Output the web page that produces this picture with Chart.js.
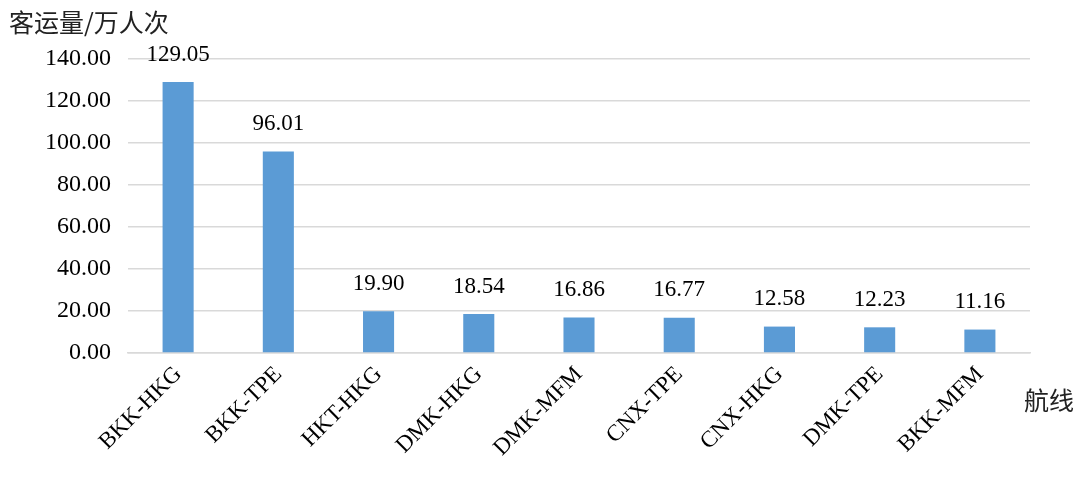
<!DOCTYPE html>
<html>
<head>
<meta charset="utf-8">
<script src="https://cdn.jsdelivr.net/npm/chart.js@4/dist/chart.umd.min.js"></script>
<style>
  html, body { margin: 0; padding: 0; background: #fff; }
  #wrap { width: 1080px; height: 477px; }
</style>
</head>
<body>
<div id="wrap"><canvas id="routeChart"></canvas></div>
<script>
const routes = ['BKK-HKG', 'BKK-TPE', 'HKT-HKG', 'DMK-HKG', 'DMK-MFM', 'CNX-TPE', 'CNX-HKG', 'DMK-TPE', 'BKK-MFM']
const passengers = [129.05, 96.01, 19.90, 18.54, 16.86, 16.77, 12.58, 12.23, 11.16]
const yTicks = [0, 20, 40, 60, 80, 100, 120, 140]
const yTitle = '客运量/万人次'
const xTitle = '航线'

const serif = '"Liberation Serif", "Times New Roman", serif'
const cjk = '"Noto Sans CJK SC", sans-serif'

// value labels above bars + the two axis titles
const labelPlugin = {
  id: 'labels',
  afterDatasetsDraw(chart) {
    const ctx = chart.ctx
    const meta = chart.getDatasetMeta(0)
    ctx.save()
    ctx.fillStyle = '#000'
    ctx.font = '23px ' + serif
    ctx.textAlign = 'center'
    ctx.textBaseline = 'bottom'
    meta.data.forEach((bar, i) => {
      ctx.fillText(passengers[i].toFixed(2), bar.x, bar.y - 16)
    })
    ctx.font = '25px ' + cjk
    ctx.textAlign = 'left'
    ctx.textBaseline = 'middle'
    ctx.fillStyle = '#222'
    ctx.fillText(yTitle, 9, 22)
    ctx.fillText(xTitle, 1024, 400)
    ctx.restore()
  }
}

new Chart(document.getElementById('routeChart'), {
  type: 'bar',
  data: {
    labels: routes,
    datasets: [{
      data: passengers,
      backgroundColor: '#5B9BD5',
      borderWidth: 0,
      categoryPercentage: 1,
      barPercentage: 0.31
    }]
  },
  options: {
    responsive: true,
    maintainAspectRatio: false,
    animation: false,
    layout: { padding: { top: 59, right: 50, left: 0, bottom: 0 } },
    plugins: { legend: { display: false }, tooltip: { enabled: false } },
    scales: {
      x: {
        grid: { display: false },
        border: { color: '#D9D9D9', width: 1.5 },
        afterFit(scale) { scale.height = 124 },
        ticks: {
          color: '#000',
          font: { family: serif, size: 23 },
          maxRotation: 45,
          minRotation: 45,
          padding: 0
        }
      },
      y: {
        min: 0,
        max: 140,
        afterBuildTicks(scale) { scale.ticks = yTicks.map(v => ({ value: v })) },
        afterFit(scale) { scale.width = 128 },
        grid: { color: '#D9D9D9', lineWidth: 1.5, drawTicks: false },
        border: { display: false },
        ticks: {
          color: '#000',
          font: { family: serif, size: 24 },
          padding: 17,
          callback: v => v.toFixed(2)
        }
      }
    }
  },
  plugins: [labelPlugin]
})
</script>
</body>
</html>
